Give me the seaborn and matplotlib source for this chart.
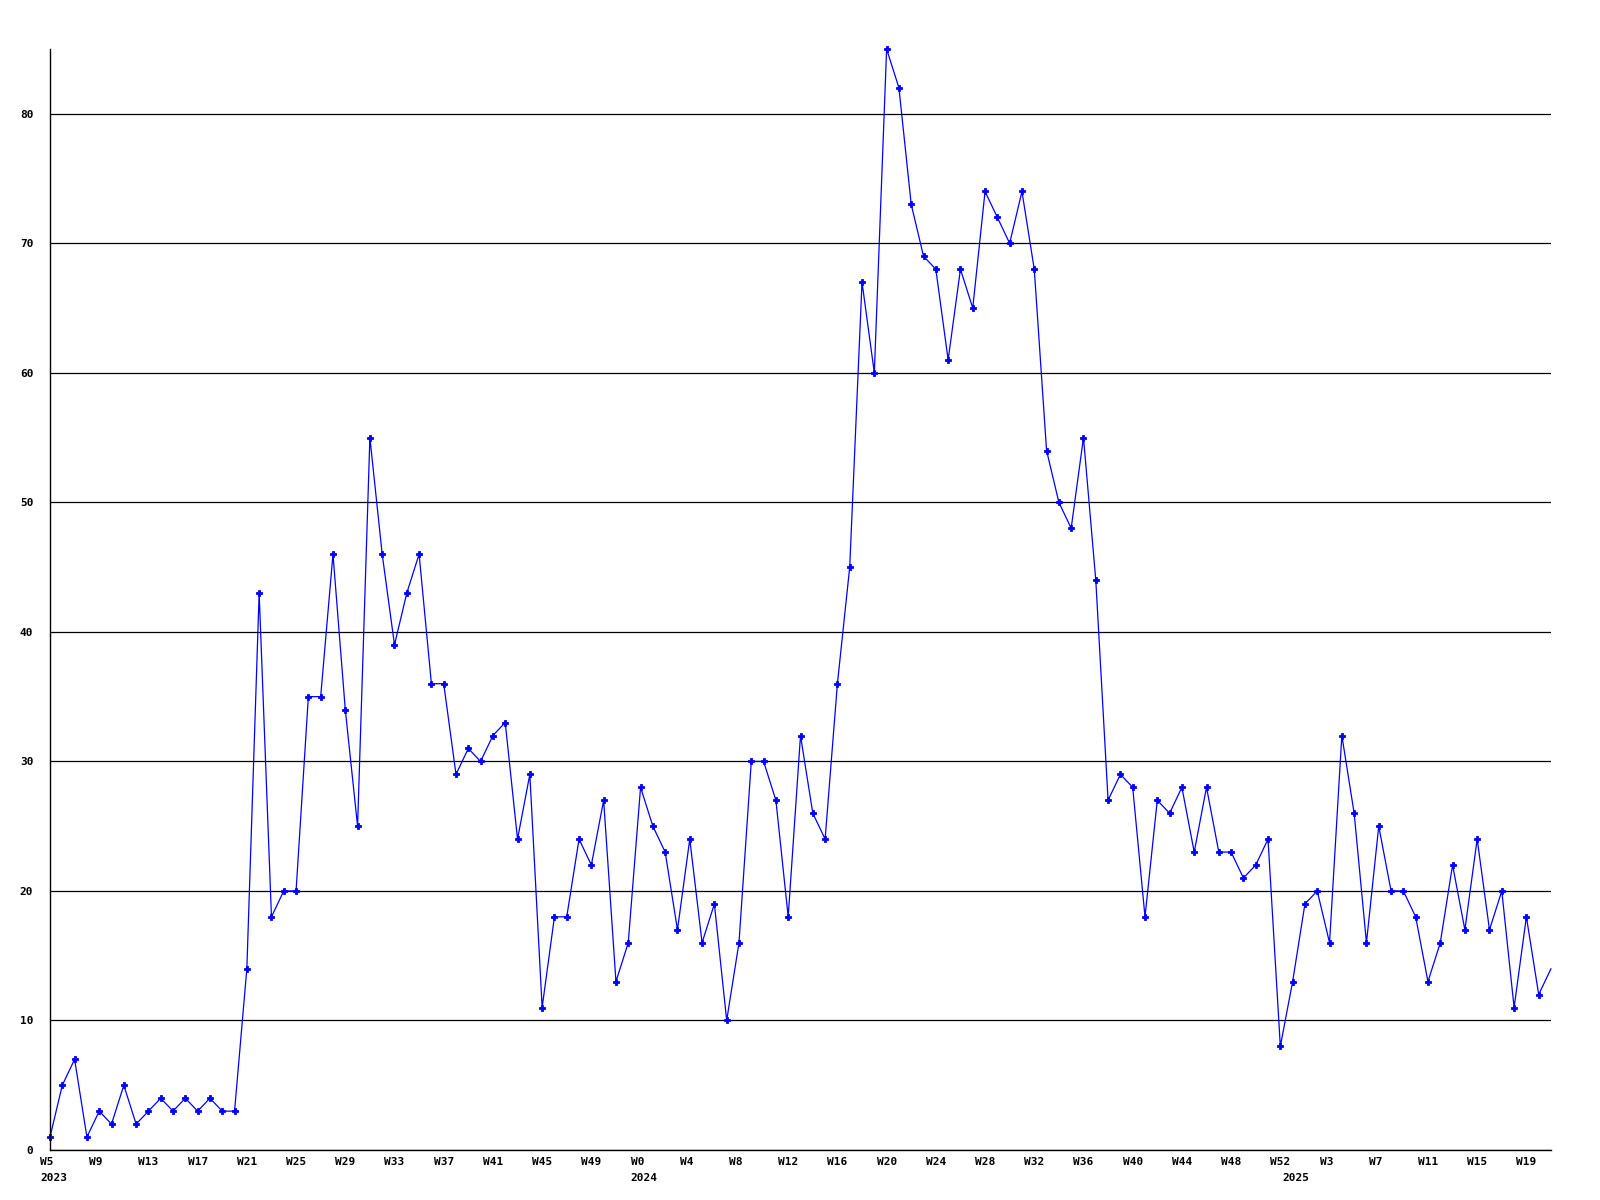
import matplotlib
matplotlib.use("Agg")
import matplotlib.pyplot as plt
import seaborn as sns
import pandas as pd

# ---- data ----
years = ["2023"] * 48 + ["2024"] * 53 + ["2025"] * 22
week_numbers = list(range(5, 53)) + list(range(0, 53)) + list(range(0, 22))
values = [1, 5, 7, 1, 3, 2, 5, 2, 3, 4,
          3, 4, 3, 4, 3, 3, 14, 43, 18, 20,
          20, 35, 35, 46, 34, 25, 55, 46, 39, 43,
          46, 36, 36, 29, 31, 30, 32, 33, 24, 29,
          11, 18, 18, 24, 22, 27, 13, 16, 28, 25,
          23, 17, 24, 16, 19, 10, 16, 30, 30, 27,
          18, 32, 26, 24, 36, 45, 67, 60, 85, 82,
          73, 69, 68, 61, 68, 65, 74, 72, 70, 74,
          68, 54, 50, 48, 55, 44, 27, 29, 28, 18,
          27, 26, 28, 23, 28, 23, 23, 21, 22, 24,
          8, 13, 19, 20, 16, 32, 26, 16, 25, 20,
          20, 18, 13, 16, 22, 17, 24, 17, 20, 11,
          18, 12, 14]
y_ticks = [0, 10, 20, 30, 40, 50, 60, 70, 80]

df = pd.DataFrame({
    "idx": range(len(values)),
    "year": years,
    "week": ["W%d" % w for w in week_numbers],
    "value": values,
})

sns.set_theme(style="white")
plt.rcParams["font.family"] = ["DejaVu Sans Mono", "DejaVu Sans"]
plt.rcParams["font.weight"] = "bold"

fig = plt.figure(figsize=(16, 12), dpi=100)
ax = fig.add_axes([50 / 1600, 1 - 1150 / 1200, (1551 - 50) / 1600, (1150 - 49) / 1200])

sns.lineplot(data=df, x="idx", y="value", ax=ax, color="#0000ff", linewidth=0.9,
             marker="P", markersize=4, markeredgewidth=0.6, markeredgecolor="#0000ff",
             clip_on=False, markevery=list(range(len(values) - 1)))

ax.set_xlim(0, len(values) - 1)
ax.set_ylim(0, 85)
ax.set_xlabel("")
ax.set_ylabel("")

# spines
for s in ["top", "right"]:
    ax.spines[s].set_visible(False)
for s in ["left", "bottom"]:
    ax.spines[s].set_color("black")
    ax.spines[s].set_linewidth(1.0)

# y axis ticks and horizontal grid
ax.set_yticks(y_ticks)
ax.set_yticklabels([str(v) for v in y_ticks], fontsize=8, fontweight="bold", color="black")
ax.tick_params(axis="y", length=0, pad=12)
ax.yaxis.grid(True, color="black", linewidth=0.9)
ax.xaxis.grid(False)

# x labels: week every 4 points, year at first week of each year
ax.set_xticks([])
for i in range(0, len(df), 4):
    ax.annotate(df["week"][i], xy=(i, 0), xycoords=("data", "axes fraction"),
                xytext=(-10, -15), textcoords="offset pixels",
                ha="left", va="baseline", fontsize=8, fontweight="bold",
                color="black", annotation_clip=False)
prev = None
for i, yr in enumerate(df["year"]):
    if yr != prev:
        ax.annotate(yr, xy=(i, 0), xycoords=("data", "axes fraction"),
                    xytext=(-10, -31), textcoords="offset pixels",
                    ha="left", va="baseline", fontsize=8, fontweight="bold",
                    color="black", annotation_clip=False)
        prev = yr

fig.savefig("out.png", dpi=100, facecolor="white")
